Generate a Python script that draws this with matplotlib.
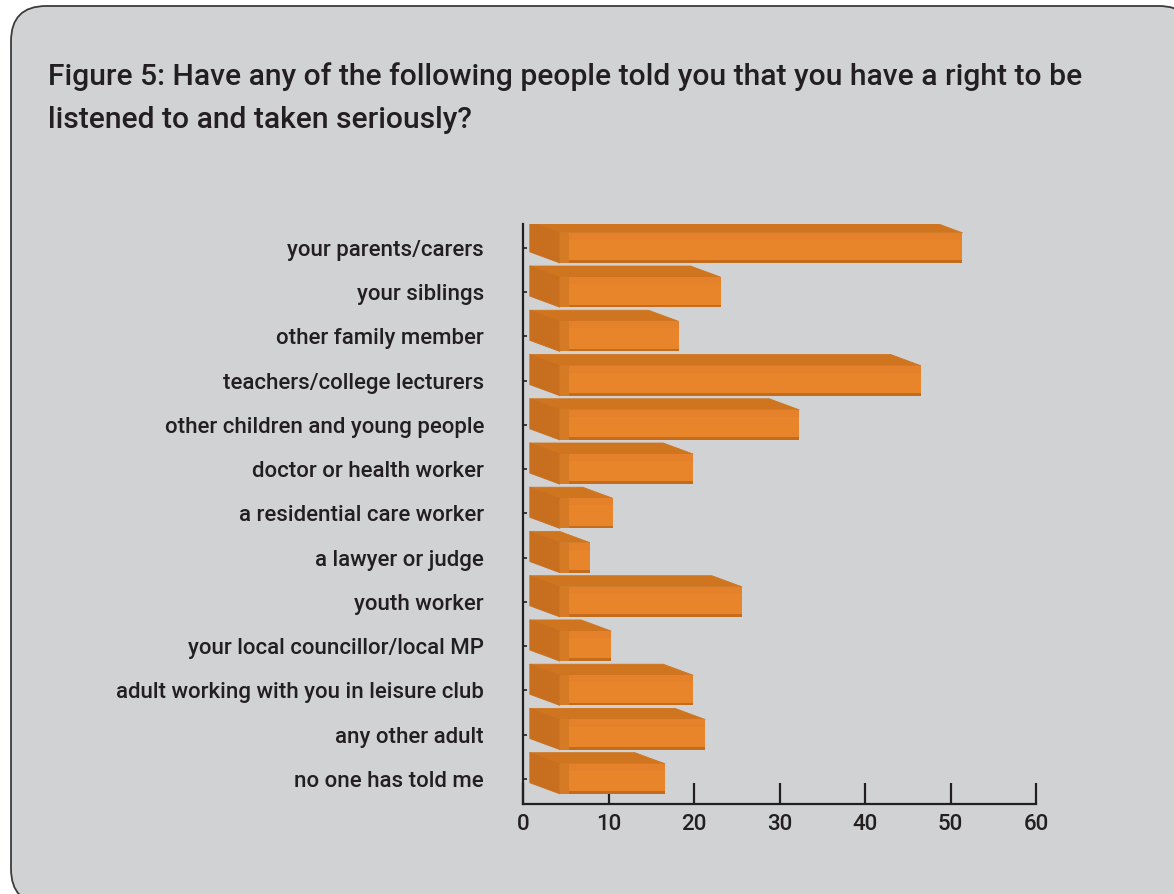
import matplotlib
matplotlib.use("Agg")
import matplotlib.pyplot as plt
from matplotlib.patches import FancyBboxPatch, Polygon

# Survey responses (percentage of respondents)
categories = [
    "your parents/carers",
    "your siblings",
    "other family member",
    "teachers/college lecturers",
    "other children and young people",
    "doctor or health worker",
    "a residential care worker",
    "a lawyer or judge",
    "youth worker",
    "your local councillor/local MP",
    "adult working with you in leisure club",
    "any other adult",
    "no one has told me",
]
values = [51.4, 23.1, 18.2, 46.5, 32.3, 19.9, 10.5, 7.8, 25.6, 10.3, 19.9, 21.3, 16.6]
x_ticks = [0, 10, 20, 30, 40, 50, 60]

title = ("Figure 5: Have any of the following people told you that you have a right to be\n"
         "listened to and taken seriously?")

FONT = "Roboto"
TEXT = "#231f20"
PANEL = "#d1d2d4"
FRONT = "#e8842a"
FRONT_TOP = "#e4812a"
TOP = "#d0751f"
SIDE = "#c76f1f"
BEVEL = "#d57b25"
EDGE_DARK = "#c46b1c"

W, H = 1174, 894
fig = plt.figure(figsize=(W / 100, H / 100), dpi=100)
fig.patch.set_facecolor("white")

# rounded grey panel behind everything
panel = FancyBboxPatch((11 / W, -10 / H), (W + 20 - 11) / W, (H - 6 + 10) / H,
                       boxstyle="round,pad=0,rounding_size=0.03",
                       transform=fig.transFigure, facecolor=PANEL,
                       edgecolor="#3c3c3c", linewidth=1.3, zorder=-10,
                       mutation_aspect=W / H)
fig.patches.append(panel)

fig.text(48 / W, 1 - 62 / H, title, ha="left", va="top", fontsize=21.6,
         fontweight="medium", family=FONT, color=TEXT, linespacing=1.7,
         zorder=5)

left_px, right_px, top_px, bot_px = 523, 1036, 224, 804
ax = fig.add_axes([left_px / W, 1 - bot_px / H, (right_px - left_px) / W,
                   (bot_px - top_px) / H])
ax.set_zorder(2)
ax.set_facecolor("none")
n = len(categories)
pos = list(range(n))
ax.set_xlim(0, 60)
ax.set_ylim(n - 1 + 0.57, -0.54)

# 3-D bar geometry (data units)
front_left = 4.3
half_h = 0.34
dx = 3.5
dy = 0.25

for p, v in zip(pos, values):
    top = p - half_h
    bot = p + half_h
    # top face
    ax.add_patch(Polygon([(front_left, top), (v, top), (v - dx, top - dy),
                          (front_left - dx, top - dy)], closed=True,
                         facecolor=TOP, edgecolor=TOP, lw=0.6,
                         joinstyle="round", zorder=2))
    # left side face
    ax.add_patch(Polygon([(front_left, top), (front_left, bot),
                          (front_left - dx, bot - dy), (front_left - dx, top - dy)],
                         closed=True, facecolor=SIDE, edgecolor=SIDE, lw=0.6,
                         joinstyle="round", zorder=2))
# front faces
ax.barh(pos, [v - front_left for v in values], left=front_left, height=2 * half_h,
        color=FRONT, edgecolor="none", zorder=3)
# subtle band along the top of the front face
ax.barh([p - half_h + 0.08 for p in pos], [v - front_left for v in values],
        left=front_left, height=0.16, color=FRONT_TOP, edgecolor="none", zorder=3)
# darker lower rim
ax.barh([p + half_h - 0.03 for p in pos], [v - front_left for v in values],
        left=front_left, height=0.06, color=EDGE_DARK, edgecolor="none", zorder=3)
# bevel strip at the left of the front face
ax.barh(pos, [1.1] * n, left=front_left, height=2 * half_h, color=BEVEL,
        edgecolor="none", zorder=3)

for s in ["top", "right"]:
    ax.spines[s].set_visible(False)
for s in ["left", "bottom"]:
    ax.spines[s].set_color("#231f20")
    ax.spines[s].set_linewidth(1.6)

ax.set_xticks(x_ticks)
ax.set_xticklabels([str(t) for t in x_ticks])
ax.tick_params(axis="x", direction="in", length=15, width=1.6, color="#231f20",
               pad=7, labelsize=16, labelcolor=TEXT)
ax.set_yticks(pos)
ax.set_yticklabels(categories)
ax.tick_params(axis="y", direction="in", length=3, width=1.2, color="#231f20",
               pad=28, labelsize=16, labelcolor=TEXT)
for lab in ax.get_xticklabels() + ax.get_yticklabels():
    lab.set_family(FONT)
    lab.set_fontweight("medium")

fig.savefig("out.png", dpi=100, facecolor=fig.get_facecolor())
